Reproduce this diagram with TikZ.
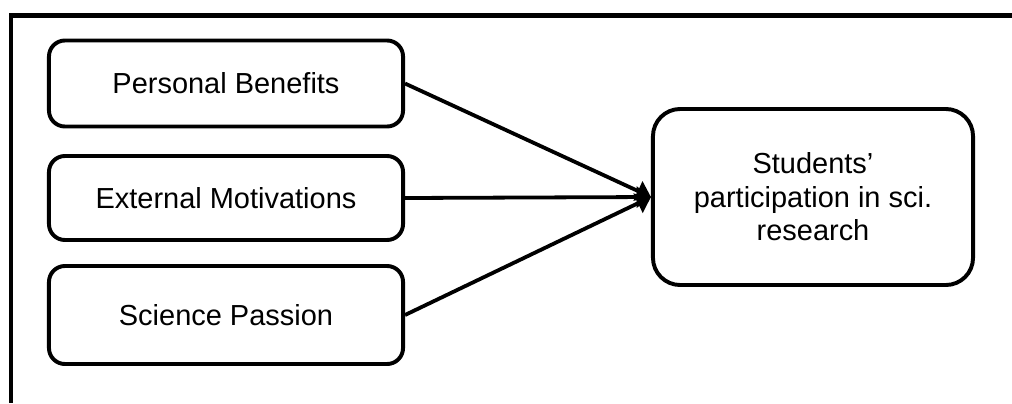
\documentclass[tikz,border=0pt]{standalone}
\usepackage{fontspec}
\setmainfont{Liberation Sans}
\usepackage{tikz}
\usetikzlibrary{arrows.meta}

\begin{document}
\begin{tikzpicture}[x=0.025cm,y=-0.025cm,
  factor/.style={draw,line width=2.8pt,rounded corners=0.4cm,minimum width=8.85cm,
    align=center,font=\fontsize{20.6}{24.7}\selectfont},
  outcome/.style={draw,line width=2.8pt,rounded corners=0.68cm,minimum width=8.0cm,
    minimum height=4.4cm,align=center,font=\fontsize{20.6}{23.8}\selectfont},
  link/.style={line width=2.7pt,-{Triangle[length=0.36cm,width=0.52cm]}}]
\useasboundingbox (0,0) rectangle (1012,403);
% open frame
\draw[line width=3.2pt] (1012,15.3) -- (10.8,15.3) -- (10.8,403);
% factors
\node[factor,minimum height=2.15cm] (benefits) at (226,83.5) {Personal Benefits};
\node[factor,minimum height=2.1cm] (external) at (226,198) {External Motivations};
\node[factor,minimum height=2.45cm] (passion) at (226,315) {Science Passion};
% outcome
\node[outcome] (participation) at (813,197) {Students’\\participation in sci.\\research};
\foreach \f in {benefits,external,passion}
  \draw[link] (\f.east) -- (participation.west);
\end{tikzpicture}
\end{document}
